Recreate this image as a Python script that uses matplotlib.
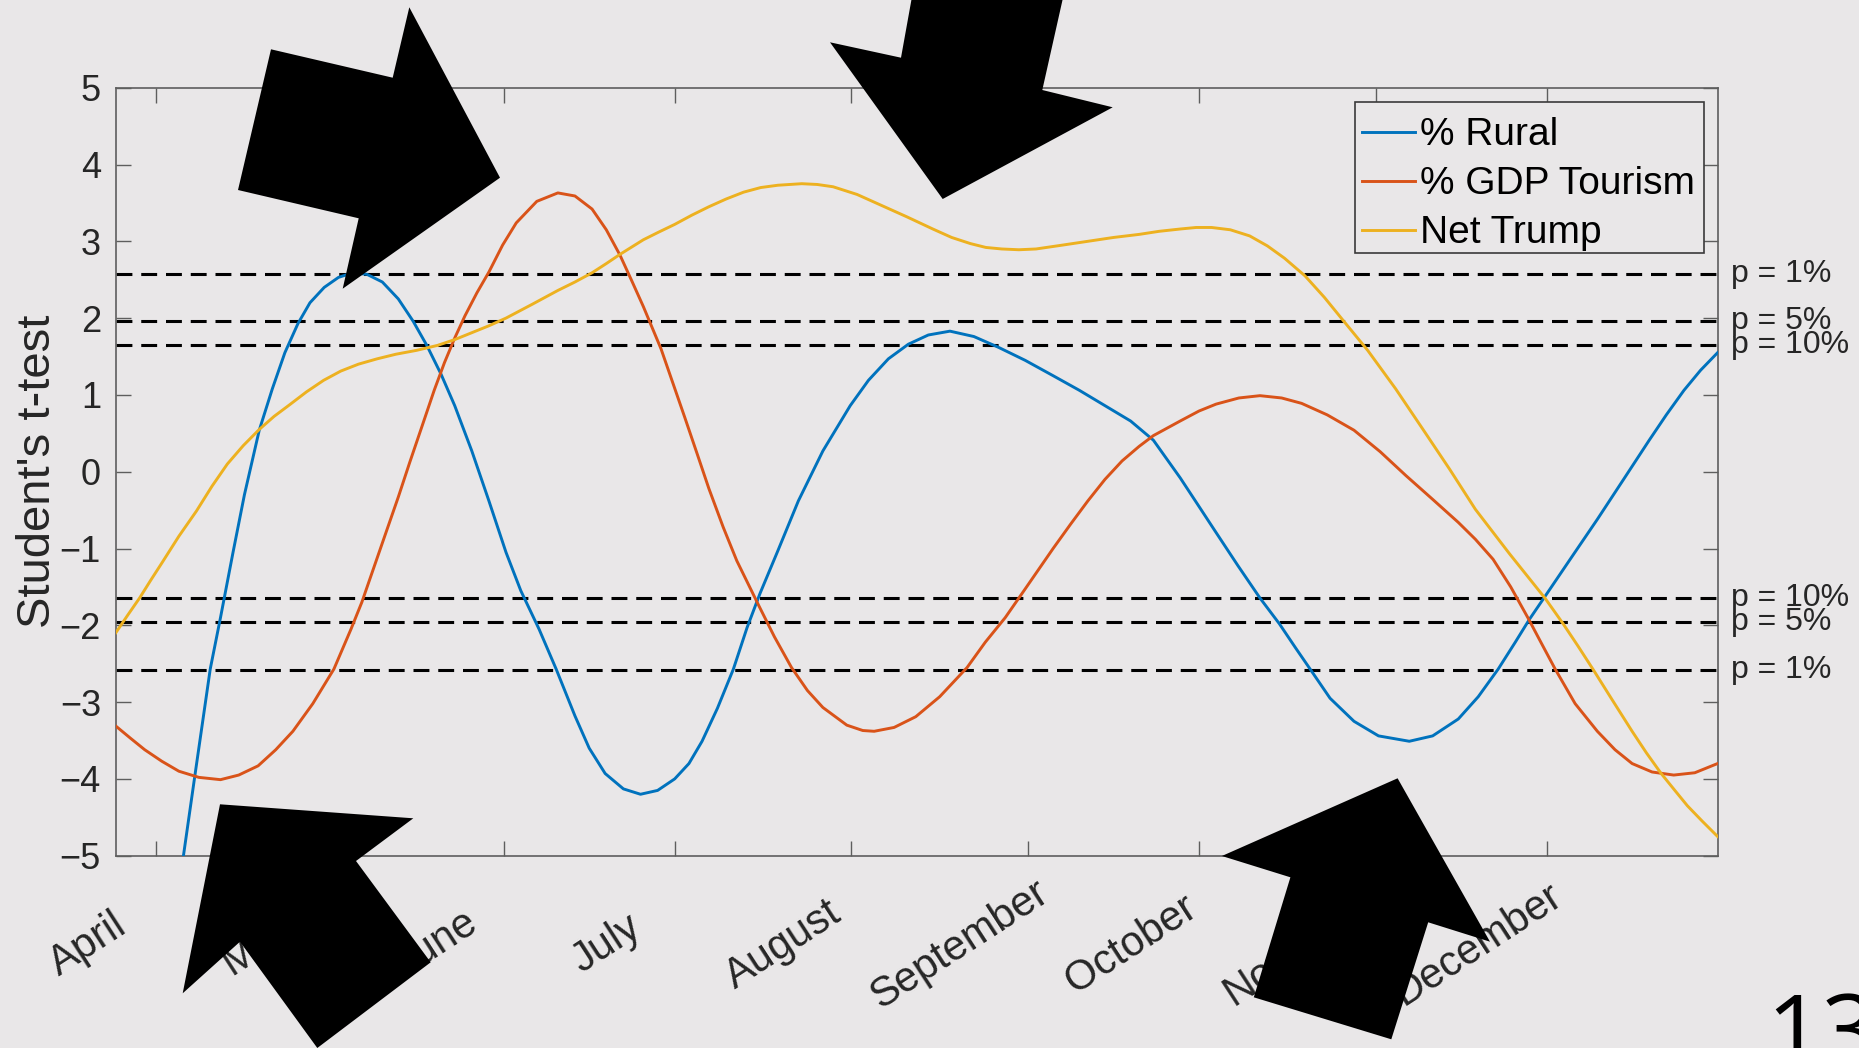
import matplotlib
matplotlib.use("Agg")
import matplotlib.pyplot as plt
import matplotlib.transforms as mtransforms
from matplotlib.patches import Polygon, Rectangle

W, H, DPI = 1859, 1048, 100
plt.rcParams['font.family'] = ['Liberation Sans', 'DejaVu Sans']

# ---- data (x = days after 1 April) ----
months = ['April', 'May', 'June', 'July', 'August', 'September',
          'October', 'November', 'December']
month_days = [0, 30, 61, 91, 122, 153, 183, 214, 244]

rural_days = [-7, 0, 4.8, 6.8, 9.5, 11.3, 13.5, 15.5, 18.1, 20.4, 22.6, 24.9,
              27.0, 29.5, 32.0, 34.5, 37.0, 39.7, 42.5, 45.1, 47.5, 50.0,
              52.4, 55.4, 58.4, 61.4, 64.0, 67.2, 70.2, 73.5, 76.0, 78.8,
              82.0, 85.0, 88.0, 91.0, 93.5, 95.8, 98.5, 101.3, 103.7, 106.0,
              109.1, 112.7, 117.0, 121.8, 125.0, 128.5, 132.0, 135.5, 139.3,
              143.5, 147.8, 152.5, 157.4, 162.0, 166.5, 171.0, 175.0, 179.7,
              182.8, 185.8, 189.8, 193.7, 197.1, 200.0, 202.5, 206.0, 210.2,
              214.5, 219.9, 224.0, 228.5, 232.0, 235.5, 238.5, 241.0, 244.3,
              248.5, 252.9, 257.5, 262.0, 265.0, 268.1, 271.0, 274.0]
rural_t = [-12.5, -7.8, -5.0, -3.96, -2.57, -1.90, -1.05, -0.30, 0.54, 1.08,
           1.55, 1.93, 2.20, 2.40, 2.53, 2.59, 2.57, 2.47, 2.25, 1.96, 1.645,
           1.27, 0.86, 0.27, -0.38, -1.05, -1.55, -2.05, -2.57, -3.18, -3.60,
           -3.93, -4.13, -4.20, -4.15, -4.00, -3.80, -3.51, -3.08, -2.57,
           -2.03, -1.58, -1.03, -0.38, 0.27, 0.86, 1.19, 1.47, 1.66, 1.78,
           1.83, 1.76, 1.62, 1.45, 1.25, 1.06, 0.86, 0.66, 0.41, -0.08,
           -0.43, -0.77, -1.22, -1.645, -1.98, -2.30, -2.57, -2.95, -3.25,
           -3.44, -3.51, -3.44, -3.22, -2.93, -2.57, -2.22, -1.92, -1.56,
           -1.10, -0.62, -0.10, 0.41, 0.74, 1.06, 1.32, 1.55]

tourism_days = [-7.1, -4.5, -2.0, 1.0, 4.0, 7.5, 11.3, 14.5, 17.9, 21.0, 24.0,
                27.5, 31.2, 34.2, 36.1, 38.2, 40.3, 42.5, 44.5, 46.7, 48.8,
                50.6, 52.4, 54.2, 56.3, 58.4, 60.8, 63.2, 66.8, 70.5, 73.5,
                76.5, 79.0, 81.4, 83.5, 85.5, 88.6, 90.7, 92.8, 95.0, 97.0,
                99.5, 101.9, 105.8, 108.5, 111.5, 114.3, 117.0, 121.2, 124.0,
                126.0, 129.5, 133.3, 137.5, 142.3, 145.5, 149.0, 152.0, 157.4,
                160.5, 163.5, 166.5, 169.5, 172.5, 175.0, 179.7, 183.0, 186.0,
                190.0, 193.7, 197.5, 201.0, 205.5, 210.2, 214.8, 219.3, 224.0,
                228.5, 231.5, 234.6, 237.7, 240.7, 243.2, 245.5, 249.0, 252.9,
                256.0, 259.0, 262.5, 266.3, 270.0, 274.0]
tourism_t = [-3.31, -3.47, -3.62, -3.77, -3.90, -3.98, -4.01, -3.95, -3.83,
             -3.62, -3.38, -3.02, -2.57, -2.05, -1.70, -1.25, -0.80, -0.33,
             0.12, 0.60, 1.06, 1.42, 1.74, 2.03, 2.33, 2.60, 2.95, 3.24, 3.52,
             3.63, 3.59, 3.42, 3.15, 2.82, 2.48, 2.15, 1.60, 1.15, 0.70, 0.22,
             -0.22, -0.72, -1.16, -1.75, -2.15, -2.55, -2.85, -3.07, -3.30,
             -3.37, -3.38, -3.33, -3.19, -2.93, -2.55, -2.22, -1.90, -1.58,
             -1.00, -0.68, -0.38, -0.10, 0.14, 0.33, 0.47, 0.66, 0.79, 0.88,
             0.96, 0.99, 0.96, 0.89, 0.74, 0.54, 0.26, -0.05, -0.36, -0.66,
             -0.88, -1.14, -1.50, -1.90, -2.25, -2.57, -3.02, -3.38, -3.62,
             -3.80, -3.91, -3.95, -3.92, -3.80]

trump_days = [-7.1, -5.0, -2.9, -1.0, 1.0, 4.0, 7.1, 9.8, 12.5, 15.3, 18.1,
              20.7, 23.4, 26.4, 29.4, 32.4, 35.5, 38.8, 42.1, 45.7, 49.4,
              52.4, 55.4, 58.4, 61.4, 66.0, 70.5, 73.5, 76.5, 79.0, 81.4,
              85.5, 88.2, 91.0, 94.0, 97.0, 100.0, 103.1, 106.1, 109.1, 113.3,
              116.0, 118.8, 123.0, 127.2, 131.7, 136.3, 139.6, 142.9, 145.6,
              148.4, 151.4, 154.4, 159.0, 163.5, 168.0, 172.5, 176.0, 179.7,
              182.5, 185.2, 188.5, 191.9, 195.0, 198.0, 201.6, 205.0, 208.4,
              212.6, 217.5, 222.4, 227.0, 231.5, 237.5, 243.7, 246.8, 249.5,
              252.2, 255.5, 259.0, 261.5, 264.1, 266.5, 268.7, 271.3, 274.0]
trump_t = [-2.10, -1.87, -1.645, -1.42, -1.19, -0.84, -0.51, -0.19, 0.10,
           0.34, 0.55, 0.72, 0.87, 1.04, 1.19, 1.31, 1.40, 1.47, 1.53, 1.58,
           1.645, 1.72, 1.81, 1.90, 2.00, 2.18, 2.36, 2.47, 2.59, 2.71, 2.83,
           3.02, 3.12, 3.22, 3.34, 3.45, 3.55, 3.64, 3.70, 3.73, 3.75, 3.74,
           3.71, 3.61, 3.47, 3.32, 3.16, 3.05, 2.97, 2.92, 2.90, 2.89, 2.90,
           2.95, 3.00, 3.05, 3.09, 3.13, 3.16, 3.18, 3.18, 3.15, 3.07, 2.94,
           2.78, 2.55, 2.27, 1.96, 1.58, 1.08, 0.54, 0.03, -0.49, -1.07,
           -1.645, -1.97, -2.27, -2.58, -2.97, -3.38, -3.66, -3.93, -4.15,
           -4.35, -4.55, -4.75]

series_names = ['% Rural', '% GDP Tourism', 'Net Trump']
series_colors = ['#0072BD', '#D95319', '#EDB120']

p_levels = [2.576, 1.960, 1.645]
p_labels = ['p = 1%', 'p = 5%', 'p = 10%']

# ---- styling ----
BG = '#e9e7e8'
AX_EDGE = '#5e5e5e'
TXT = '#262626'


def px(x, y):
    """Pixel position (from top-left) to figure fraction."""
    return (x / W, 1 - y / H)


fig = plt.figure(figsize=(W / DPI, H / DPI), dpi=DPI, facecolor=BG)
left, right, top, bottom = 116.2, 1717.6, 87.7, 855.7
ax = fig.add_axes([left / W, 1 - bottom / H, (right - left) / W, (bottom - top) / H])
ax.set_facecolor(BG)

# significance thresholds
for lvl in p_levels:
    for sign in (1, -1):
        ax.axhline(sign * lvl, color='black', lw=2.2, dashes=(5.2, 2.9), zorder=2)

trans = ax.get_yaxis_transform()
for lvl, lab in zip(p_levels, p_labels):
    for sign in (1, -1):
        ax.text(1.0084, sign * lvl, lab, transform=trans, fontsize=23,
                color=TXT, ha='left', va='center', clip_on=False)

# t-statistic curves
for d, t, name, c in zip([rural_days, tourism_days, trump_days],
                         [rural_t, tourism_t, trump_t],
                         series_names, series_colors):
    ax.plot(d, t, color=c, lw=2.1, label=name, zorder=3,
            solid_joinstyle='round')

ax.set_xlim(-7, 274)
ax.set_ylim(-5, 5)
ax.set_yticks(range(-5, 6))
ax.set_xticks(month_days)

ax.tick_params(axis='both', direction='in', length=10.8, width=1.0,
               color=AX_EDGE, labelcolor=TXT, top=True, right=True)
ax.tick_params(axis='y', pad=11, labelsize=26)
ax.tick_params(axis='x', pad=64)

# rotated month names, centred below and to the left of each tick
ax.set_xticklabels(months, rotation=33, ha='center', va='center',
                   rotation_mode='default', fontsize=30)
shift = mtransforms.ScaledTranslation(-0.68, 0, fig.dpi_scale_trans)
for lab in ax.get_xticklabels():
    lab.set_transform(lab.get_transform() + shift)

for s in ax.spines.values():
    s.set_color(AX_EDGE)
    s.set_linewidth(1.2)

ax.set_ylabel("Student's t-test", fontsize=34, color=TXT)
ax.yaxis.set_label_coords(-0.0354, 0.50)

# legend: entries placed inside a fixed outline box
ax.add_artist(Rectangle(px(1355, 252.5), (1704 - 1355) / W, (252.5 - 102) / H,
                        transform=fig.transFigure, facecolor=BG,
                        edgecolor='#3a3a3a', linewidth=1.2, zorder=4,
                        clip_on=False))
leg = ax.legend(loc='upper right', bbox_to_anchor=px(1704, 108.6),
                bbox_transform=fig.transFigure, fontsize=28,
                handlelength=1.36, handletextpad=0.14, borderpad=0.22,
                labelspacing=0.337, borderaxespad=0, frameon=False)
leg.set_zorder(5)
for t in leg.get_texts():
    t.set_color('black')

# block arrows laid over the chart (pixel outlines)
arrow_outlines = [
    [(271, 49.3), (392.7, 77.7), (409.3, 7.3), (500, 177.7),
     (342.7, 288.7), (358.7, 218.3), (238, 190)],
    [(915, -20), (1067, -20), (1042.3, 90), (1112.7, 107.3),
     (942.7, 199), (830, 42.3), (901, 57.7)],
    [(220, 804.3), (413.3, 818.3), (356, 861), (430.7, 962.3),
     (317.3, 1048), (240, 941.7), (182.7, 993.3)],
    [(1397.6, 778.3), (1490, 941.7), (1428.2, 922.3), (1391.3, 1039.3),
     (1253.8, 997.3), (1290.4, 877.3), (1221.9, 856)],
]
for outline in arrow_outlines:
    fig.add_artist(Polygon([px(x, y) for x, y in outline], closed=True,
                           facecolor='black', edgecolor='none',
                           transform=fig.transFigure, zorder=10))

# page number
fig.text(*px(1766, 990), '13', fontsize=70, family=['Open Sans', 'DejaVu Sans'],
         color='black', ha='left', va='top')

fig.savefig('out.png', dpi=DPI, facecolor=BG)
